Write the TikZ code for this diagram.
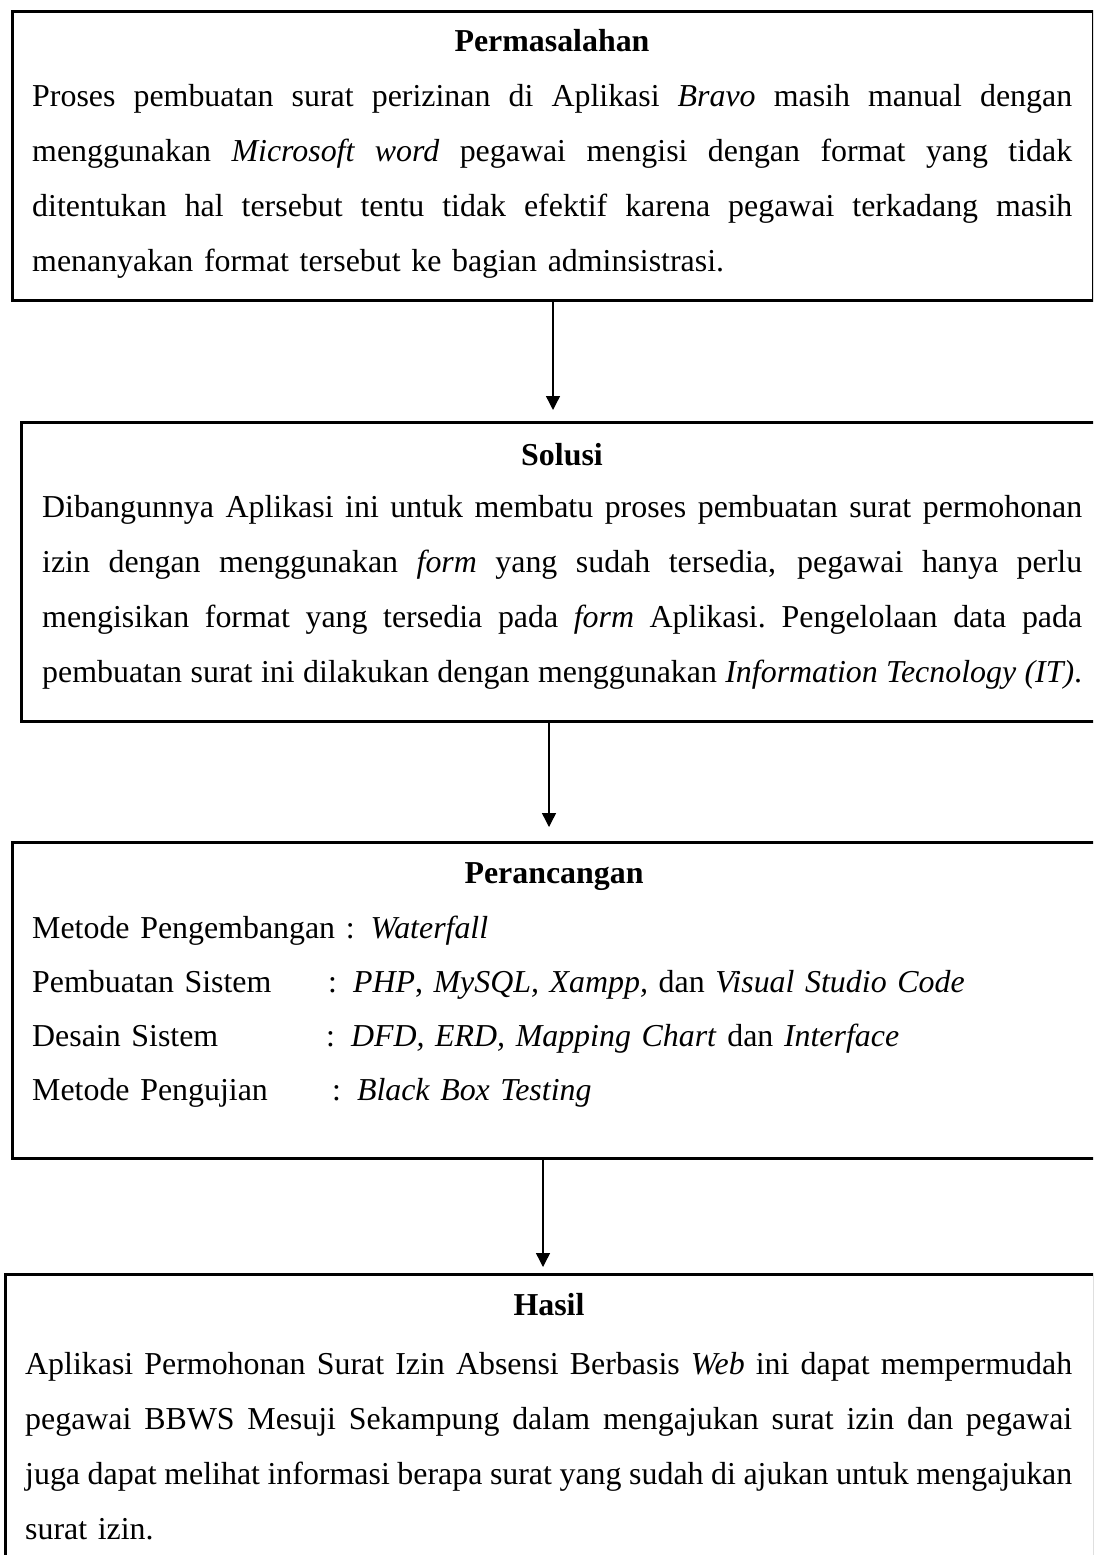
\documentclass[tikz,border=0pt]{standalone}
\usepackage{fontspec}
\setmainfont{Liberation Serif}
\usetikzlibrary{arrows.meta}
\newcommand\jl[2][1040pt]{\leavevmode\hbox to #1{\spaceskip=0.25em plus 1em minus 0.14em\relax #2}}
\newcommand\rowlab[2]{\makebox[#1][l]{#2}}
\newcommand\bodyfont{\fontsize{31.9}{55}\selectfont}
\begin{document}
\begin{tikzpicture}[x=1pt,y=-1pt,
  box/.style={draw, line width=2.6pt, anchor=north west, inner sep=0pt},
  body/.style={anchor=base west, inner sep=0pt, align=left, font=\bodyfont},
  ttl/.style={anchor=base, inner sep=0pt, font=\fontsize{31.9}{55}\selectfont\bfseries},
  conn/.style={line width=1.4pt, -{Triangle[length=14pt,width=14pt]}}]
\useasboundingbox (0,0) rectangle (1093,1555);
\clip (0,0) rectangle (1093,1555);
\fill[white] (0,0) rectangle (1093,1555);

% boxes
\node[box, minimum width=1081pt, minimum height=289pt] (b1) at (11,10) {};
\node[box, minimum width=1090pt, minimum height=299pt] (b2) at (20,421) {};
\node[box, minimum width=1100pt, minimum height=316pt] (b3) at (11,841) {};
\node[box, minimum width=1089pt, minimum height=300pt] (b4) at (4,1273) {};

% titles
\node[ttl] (t1) at (552,52) {Permasalahan};
\node[ttl] (t2) at (562,465) {Solusi};
\node[ttl] (t3) at (554,883) {Perancangan};
\node[ttl] (t4) at (549,1315) {Hasil};

% bodies
\node[body, text width=1040pt] (p1) at (32,106) {%
\jl{Proses pembuatan surat perizinan di Aplikasi \textit{Bravo} masih manual dengan}\\
\jl{menggunakan \textit{Microsoft word} pegawai mengisi dengan format yang tidak}\\
\jl{ditentukan hal tersebut tentu tidak efektif karena pegawai terkadang masih}\\
menanyakan format tersebut ke bagian adminsistrasi.};

\node[body, text width=1040pt] (p2) at (42,517) {%
\jl{Dibangunnya Aplikasi ini untuk membatu proses pembuatan surat permohonan}\\
\jl{izin dengan menggunakan \textit{form} yang sudah tersedia, pegawai hanya perlu}\\
\jl{mengisikan format yang tersedia pada \textit{form} Aplikasi. Pengelolaan data pada}\\
\jl{pembuatan surat ini dilakukan dengan menggunakan \textit{Information Tecnology (IT)}.}};

\node[body, text width=1040pt, font=\fontsize{31.9}{54.3}\selectfont] (p3) at (32,938) {%
Metode Pengembangan : \textit{Waterfall}\\
\rowlab{296pt}{Pembuatan Sistem}: \textit{PHP}, \textit{MySQL, Xampp,} dan \textit{Visual Studio Code}\\
\rowlab{294pt}{Desain Sistem}: \textit{DFD, ERD, Mapping Chart} dan \textit{Interface}\\
\rowlab{300pt}{Metode Pengujian}: \textit{Black Box Testing}};

\node[body, text width=1047pt] (p4) at (25,1374) {%
\jl[1047pt]{Aplikasi Permohonan Surat Izin Absensi Berbasis \textit{Web} ini dapat mempermudah}\\
\jl[1047pt]{pegawai BBWS Mesuji Sekampung dalam mengajukan surat izin dan pegawai}\\
\jl[1047pt]{juga dapat melihat informasi berapa surat yang sudah di ajukan untuk mengajukan}\\
surat izin.};

% connectors
\coordinate (a1) at (553,0);
\coordinate (a2) at (549,0);
\coordinate (a3) at (543,0);
\draw[conn, shorten >=11pt] (a1 |- b1.south) -- (a1 |- b2.north);
\draw[conn, shorten >=14pt] (a2 |- b2.south) -- (a2 |- b3.north);
\draw[conn, shorten >=6pt] (a3 |- b3.south) -- (a3 |- b4.north);
\end{tikzpicture}
\end{document}
